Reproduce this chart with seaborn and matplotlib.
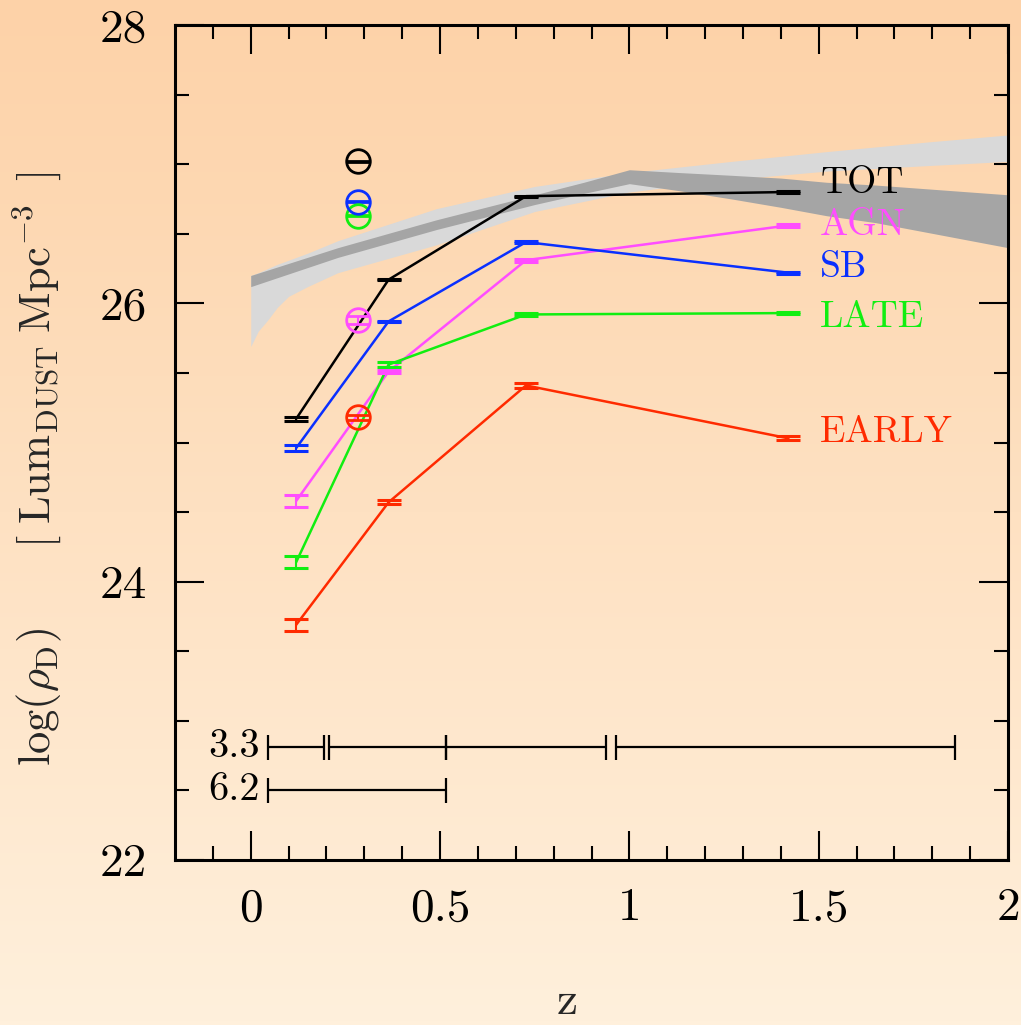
import numpy as np
import pandas as pd
import matplotlib
matplotlib.use("Agg")
import matplotlib.pyplot as plt
import seaborn as sns

# ---------------- data ----------------
z_pts = [0.12, 0.364, 0.727, 1.42]
comps = ["TOT", "AGN", "SB", "LATE", "EARLY"]
tot_vals = [25.17, 26.17, 26.77, 26.80]
agn_vals = [24.58, 25.51, 26.31, 26.56]
sb_vals = [24.96, 25.87, 26.44, 26.22]
late_vals = [24.14, 25.56, 25.92, 25.93]
early_vals = [23.69, 24.57, 25.41, 25.03]
tot_err = [0.015, 0.004, 0.004, 0.008]
agn_err = [0.04, 0.008, 0.01, 0.008]
sb_err = [0.02, 0.004, 0.008, 0.008]
late_err = [0.045, 0.02, 0.008, 0.008]
early_err = [0.045, 0.015, 0.015, 0.015]

# local (open circle) points
z_local = 0.282
local_order = ["TOT", "LATE", "SB", "AGN", "EARLY"]
local_vals = [27.02, 26.63, 26.73, 25.88, 25.18]
local_err = [0.004, 0.004, 0.004, 0.03, 0.018]

# model bands
light_z = [0.0, 0.02, 0.045, 0.07, 0.10, 0.15, 0.23, 0.49, 0.75, 1.0, 1.27, 1.52, 1.79, 2.0]
light_hi = [26.20, 26.22, 26.25, 26.28, 26.31, 26.36, 26.45, 26.68, 26.84, 26.94, 27.02, 27.09, 27.16, 27.21]
light_lo = [25.69, 25.80, 25.88, 25.97, 26.05, 26.12, 26.22, 26.42, 26.66, 26.80, 26.89, 26.95, 26.99, 27.02]
dark_z = [0.0, 0.23, 0.49, 0.75, 0.88, 1.0, 1.13, 1.27, 1.40, 1.52, 1.65, 2.0]
dark_hi = [26.20, 26.40, 26.60, 26.78, 26.87, 26.96, 26.94, 26.92, 26.90, 26.87, 26.85, 26.78]
dark_lo = [26.12, 26.33, 26.53, 26.71, 26.79, 26.86, 26.81, 26.75, 26.69, 26.63, 26.58, 26.40]

# redshift bin bars
bins33_lo = [0.045, 0.208, 0.517, 0.966]
bins33_hi = [0.193, 0.517, 0.939, 1.860]
bins62_lo = [0.045]
bins62_hi = [0.517]
bin_labels = ["3.3", "6.2"]
bin_rows = [22.81, 22.50]

label_base = [26.79, 26.49, 26.19, 25.83, 25.00]

palette = {"TOT": "#000000", "AGN": "#FF4DFF", "SB": "#0A30FF",
           "LATE": "#11EE11", "EARLY": "#FF2A00"}

# ---------------- style ----------------
sns.set_theme(style="ticks")
plt.rcParams["font.family"] = ["cmr10", "DejaVu Serif"]
plt.rcParams["mathtext.fontset"] = "cm"
plt.rcParams["axes.formatter.use_mathtext"] = True
plt.rcParams["axes.unicode_minus"] = False

fig = plt.figure(figsize=(10.21, 10.25), dpi=100)

# background gradient
bg = fig.add_axes([0, 0, 1, 1], zorder=-10)
top = np.array([253, 210, 168]) / 255.0
bot = np.array([255, 240, 220]) / 255.0
t = np.linspace(0, 1, 256)[:, None]
grad = (top[None, :] * (1 - t) + bot[None, :] * t)[:, None, :]
bg.imshow(grad, aspect="auto", extent=[0, 1, 0, 1], origin="upper")
bg.set_axis_off()

ax = fig.add_axes([175 / 1021, 1 - 860 / 1025, (1008 - 175) / 1021, (860 - 25) / 1025])
ax.set_facecolor("none")

# bands
ax.fill_between(light_z, light_lo, light_hi, color="#D9D9D9", lw=0, zorder=1)
ax.fill_between(dark_z, dark_lo, dark_hi, color="#A5A5A5", lw=0, zorder=2)

# lines
series_vals = {"TOT": tot_vals, "AGN": agn_vals, "SB": sb_vals, "LATE": late_vals, "EARLY": early_vals}
series_err = {"TOT": tot_err, "AGN": agn_err, "SB": sb_err, "LATE": late_err, "EARLY": early_err}
df = pd.DataFrame({
    "z": np.tile(z_pts, len(comps)),
    "rho": np.concatenate([series_vals[c] for c in comps]),
    "comp": np.repeat(comps, len(z_pts)),
})
sns.lineplot(data=df, x="z", y="rho", hue="comp", palette=palette, sort=False,
             estimator=None, legend=False, linewidth=1.8, ax=ax, zorder=3)

for c in comps:
    ax.errorbar(z_pts, series_vals[c], yerr=series_err[c], fmt="none",
                ecolor=palette[c], elinewidth=1.5, capsize=8.6, capthick=2.2, zorder=4)

for c, v, e in zip(local_order, local_vals, local_err):
    ax.errorbar([z_local], [v], yerr=[e], fmt="o", mfc="none", mec=palette[c],
                ms=17, mew=2.0, ecolor=palette[c], elinewidth=1.5, capsize=8.6,
                capthick=2.4, zorder=5)

# redshift bins
for lo_list, hi_list, row, lab in [(bins33_lo, bins33_hi, bin_rows[0], bin_labels[0]),
                                   (bins62_lo, bins62_hi, bin_rows[1], bin_labels[1])]:
    lo = np.array(lo_list)
    hi = np.array(hi_list)
    ax.errorbar((lo + hi) / 2, [row] * len(lo), xerr=(hi - lo) / 2, fmt="none",
                ecolor="black", elinewidth=1.6, capsize=9, capthick=1.6, zorder=4)
    ax.text(0.025, row, lab, ha="right", va="center", fontsize=29, color="black")

# component labels
for c, yb in zip(comps, label_base):
    ax.text(1.504, yb, c, ha="left", va="baseline", fontsize=27, color=palette[c])

ax.set_xlim(-0.2, 2.0)
ax.set_ylim(22, 28)
ax.set_xticks([0, 0.5, 1, 1.5, 2])
ax.set_xticklabels(["0", "0.5", "1", "1.5", "2"])
ax.set_xticks(np.arange(-0.1, 2.0, 0.1), minor=True)
ax.set_yticks([22, 24, 26, 28])
ax.set_yticklabels(["22", "24", "26", "28"])
ax.set_yticks(np.arange(22.5, 28, 0.5), minor=True)
ax.tick_params(which="both", direction="in", top=True, right=True, colors="black")
ax.tick_params(which="major", length=21, width=1.5, pad=20, labelsize=34)
ax.tick_params(which="minor", length=10, width=1.5)
for s in ax.spines.values():
    s.set_linewidth(2.2)
    s.set_color("black")
ax.set_xlabel("")
ax.set_ylabel("")

fig.text(567 / 1021, 1 - 1002 / 1025, "z", ha="center", va="center", fontsize=34)
fig.text(37 / 1021, 1 - 469 / 1025,
         r"$\log(\rho_{\rm D})\qquad[\;{\rm Lum}_{\rm DUST}\;{\rm Mpc}^{-3}\;\;]$",
         rotation=90, ha="center", va="center", fontsize=32)

fig.savefig("out.png", dpi=100)
